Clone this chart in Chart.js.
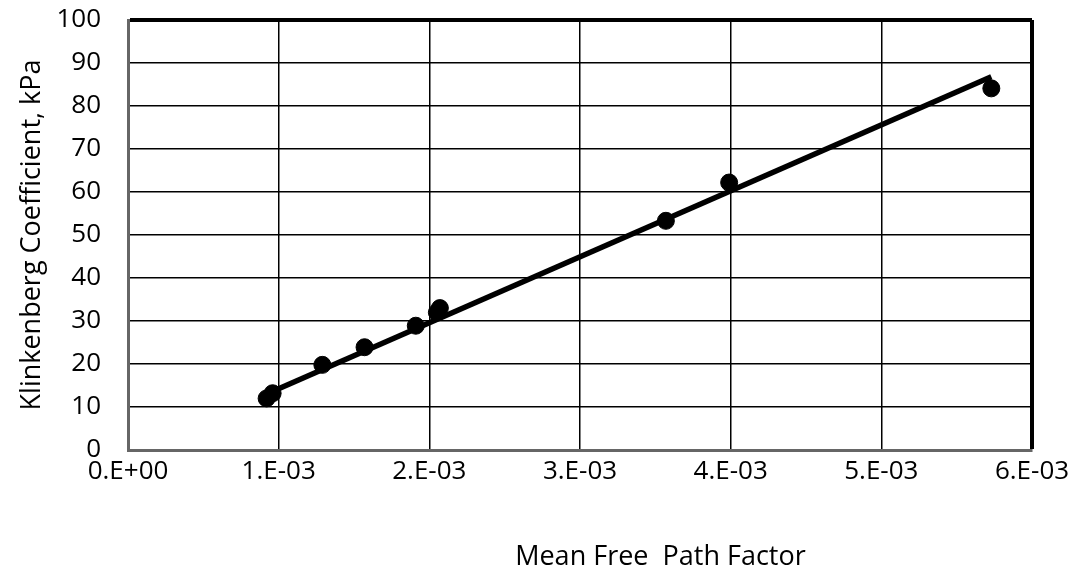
<!DOCTYPE html>
<html lang="en">
<head>
    <meta charset="UTF-8">
    <title>Klinkenberg Coefficient vs Mean Free Path Factor</title>
    <style>
        html, body { margin: 0; padding: 0; background: #fff; }
    </style>
</head>
<body>
    <canvas id="myChart" width="1079" height="570"></canvas>

    <script src="https://cdn.jsdelivr.net/npm/chart.js"></script>
    <script>
        // measured points (mean free path factor, Klinkenberg coefficient kPa)
        const v_mfp = [0.00092, 0.00096, 0.00129, 0.00157, 0.00191, 0.00205, 0.00207, 0.00357, 0.00399, 0.00573];
        const v_kb = [12.0, 13.2, 19.8, 23.9, 28.9, 32.0, 33.0, 53.3, 62.2, 84.1];

        // linear trend line ends
        const v_trendX = [0.00092, 0.00573];
        const v_trendY = [13.0, 86.8];

        const v_xTicks = ["0.E+00", "1.E-03", "2.E-03", "3.E-03", "4.E-03", "5.E-03", "6.E-03"];
        const v_yTicks = [0, 10, 20, 30, 40, 50, 60, 70, 80, 90, 100];

        const v_font = "'Open Sans', 'Liberation Sans', sans-serif";

        let v_points = [];
        for (let i = 0; i < v_mfp.length; i++) {
            v_points.push({ x: v_mfp[i], y: v_kb[i] });
        }
        let v_trend = [];
        for (let i = 0; i < v_trendX.length; i++) {
            v_trend.push({ x: v_trendX[i], y: v_trendY[i] });
        }

        // x axis title sits right of centre in the original
        const xTitlePlugin = {
            id: "xTitle",
            afterDraw(chart) {
                const c = chart.ctx;
                const a = chart.chartArea;
                c.save();
                c.font = "27px " + v_font;
                c.fillStyle = "#000";
                c.textAlign = "center";
                c.textBaseline = "alphabetic";
                c.fillText("Mean Free  Path Factor", a.left + (a.right - a.left) * 0.589, 565);
                c.restore();
            }
        };

        const ctx = document.getElementById("myChart");

        new Chart(ctx, {
            type: "scatter",
            data: {
                datasets: [
                    {
                        label: "trend",
                        data: v_trend,
                        showLine: true,
                        borderColor: "#000",
                        borderWidth: 5.5,
                        pointRadius: 0,
                        order: 2
                    },
                    {
                        label: "data",
                        data: v_points,
                        backgroundColor: "#000",
                        borderColor: "#000",
                        pointRadius: 8.5,
                        order: 1
                    }
                ]
            },
            plugins: [xTitlePlugin],
            options: {
                responsive: false,
                animation: false,
                devicePixelRatio: 1,
                layout: { padding: { top: 20, right: 47, left: 0, bottom: 0 } },
                plugins: {
                    legend: { display: false },
                    tooltip: { enabled: false }
                },
                scales: {
                    x: {
                        type: "linear",
                        min: 0,
                        max: 0.006,
                        ticks: {
                            stepSize: 0.001,
                            color: "#000",
                            padding: 6,
                            maxRotation: 0,
                            autoSkip: false,
                            font: { family: v_font, size: 26 },
                            callback: (v, i) => v_xTicks[i]
                        },
                        grid: {
                            color: "#000",
                            drawTicks: false,
                            lineWidth: (c) => (c.index === v_xTicks.length - 1 ? 4 : 1.5)
                        },
                        border: { color: "#666", width: 3 },
                        afterFit: (s) => {
                            s.height = 120;
                            s.paddingTop = 0; s.paddingBottom = 0;
                            s.paddingLeft = 0; s.paddingRight = 0;
                        }
                    },
                    y: {
                        min: 0,
                        max: 100,
                        afterBuildTicks: (s) => { s.ticks = v_yTicks.map(v => ({ value: v })); },
                        ticks: {
                            color: "#000",
                            padding: 27,
                            autoSkip: false,
                            font: { family: v_font, size: 26 }
                        },
                        grid: {
                            color: "#000",
                            drawTicks: false,
                            lineWidth: (c) => (c.index === v_yTicks.length - 1 ? 4 : 1.5)
                        },
                        border: { color: "#666", width: 3 },
                        title: {
                            display: true,
                            text: "Klinkenberg Coefficient, kPa",
                            color: "#000",
                            font: { family: v_font, size: 27 },
                            padding: { top: 16, bottom: 0 }
                        },
                        afterFit: (s) => {
                            s.width = 128;
                            s.paddingTop = 0; s.paddingBottom = 0;
                        }
                    }
                }
            }
        });
    </script>
</body>
</html>
